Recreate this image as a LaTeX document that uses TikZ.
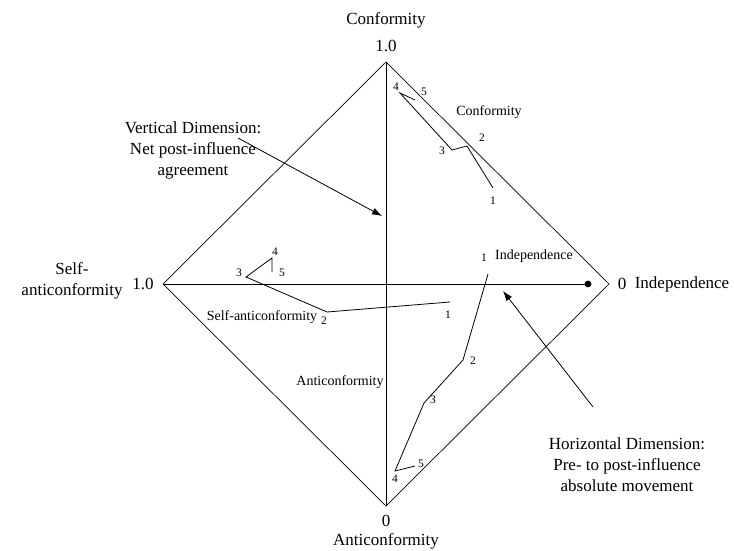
\documentclass[tikz,border=0pt]{standalone}
\usepackage{fontspec}
\setmainfont{Liberation Serif}
\usepackage{tikz}
\usetikzlibrary{arrows.meta}

\tikzset{
  axislab/.style={font=\fontsize{17}{21}\selectfont, align=center, inner sep=1pt},
  trajlab/.style={font=\fontsize{14}{16}\selectfont, inner sep=1pt},
  pt/.style={font=\fontsize{11.5}{13}\selectfont, inner sep=0.5pt},
  traj/.style={line width=0.8pt},
  pointer/.style={-{Latex[length=10pt,width=7pt]}, line width=0.8pt}
}

\begin{document}
\begin{tikzpicture}[x=1pt,y=1pt,line width=0.7pt]
\useasboundingbox (0,0) rectangle (734,550);

% the diamond
\coordinate (top) at (386,488);\coordinate (lft) at (163,266);
\coordinate (rgt) at (609,266);\coordinate (bot) at (386,44);
\coordinate (dot) at (588,266);
\draw (top) -- (rgt) -- (bot) -- (lft) -- cycle;
\draw (top) -- (bot);\draw (lft) -- (dot);
\fill (dot) circle (3.4);

% axis ends
\node[axislab] (conf) at (386,530) {Conformity};\node[axislab] (confv) at (386,504) {1.0};
\node[axislab] (anti) at (386,9) {Anticonformity};\node[axislab] (antiv) at (386,29) {0};
\node[axislab] (self) at (72,269) {Self-\\anticonformity};\node[axislab] (selfv) at (143,266) {1.0};
\node[axislab] (indep) at (682,266) {Independence};\node[axislab] (indepv) at (622,266) {0};

% dimension notes
\node[axislab] (vdim) at (193,400) {Vertical Dimension:\\Net post-influence\\agreement};
\coordinate (vfrom) at (238,412);\coordinate (vto) at (382,334);
\draw[pointer] (vfrom) -- (vto);
\node[axislab] (hdim) at (627,85) {Horizontal Dimension:\\Pre- to post-influence\\absolute movement};
\coordinate (hfrom) at (593,143);\coordinate (hto) at (503,259);
\draw[pointer] (hfrom) -- (hto);

% conformity path
\coordinate (c1) at (493,362);\coordinate (c2) at (467,404);\coordinate (c3) at (452,400);
\coordinate (c4) at (400,457);\coordinate (c5) at (415,450);
\draw[traj] (c1) -- (c2) -- (c3) -- (c4) -- (c5);
\node[pt] at (493,349) {1};\node[pt] at (482,412) {2};\node[pt] at (442,399) {3};
\node[pt] at (396,463) {4};\node[pt] at (424,458) {5};
\node[trajlab] (cname) at (489,438) {Conformity};

% self-anticonformity path
\coordinate (s1) at (450,248);\coordinate (s2) at (327,238);\coordinate (s3) at (246,273);
\coordinate (s4) at (272,292);\coordinate (s5) at (272,278);
\draw[traj] (s1) -- (s2) -- (s3) -- (s4) -- (s5);
\node[pt] at (448,235) {1};\node[pt] at (324,229) {2};\node[pt] at (239,277) {3};
\node[pt] at (275,298) {4};\node[pt] at (282,277) {5};
\node[trajlab] (sname) at (262,233) {Self-anticonformity};

% independence path
\coordinate (i1) at (488,276);\coordinate (i2) at (463,190);\coordinate (i3) at (424,147);
\coordinate (i4) at (395,79);\coordinate (i5) at (415,84);
\draw[traj] (i1) -- (i2) -- (i3) -- (i4) -- (i5);
\node[pt] at (484,292) {1};\node[pt] at (473,189) {2};\node[pt] at (433,150) {3};
\node[pt] at (395,71) {4};\node[pt] at (421,86) {5};
\node[trajlab] (iname) at (534,294) {Independence};
\node[trajlab] (aname) at (340,168) {Anticonformity};
\end{tikzpicture}
\end{document}
